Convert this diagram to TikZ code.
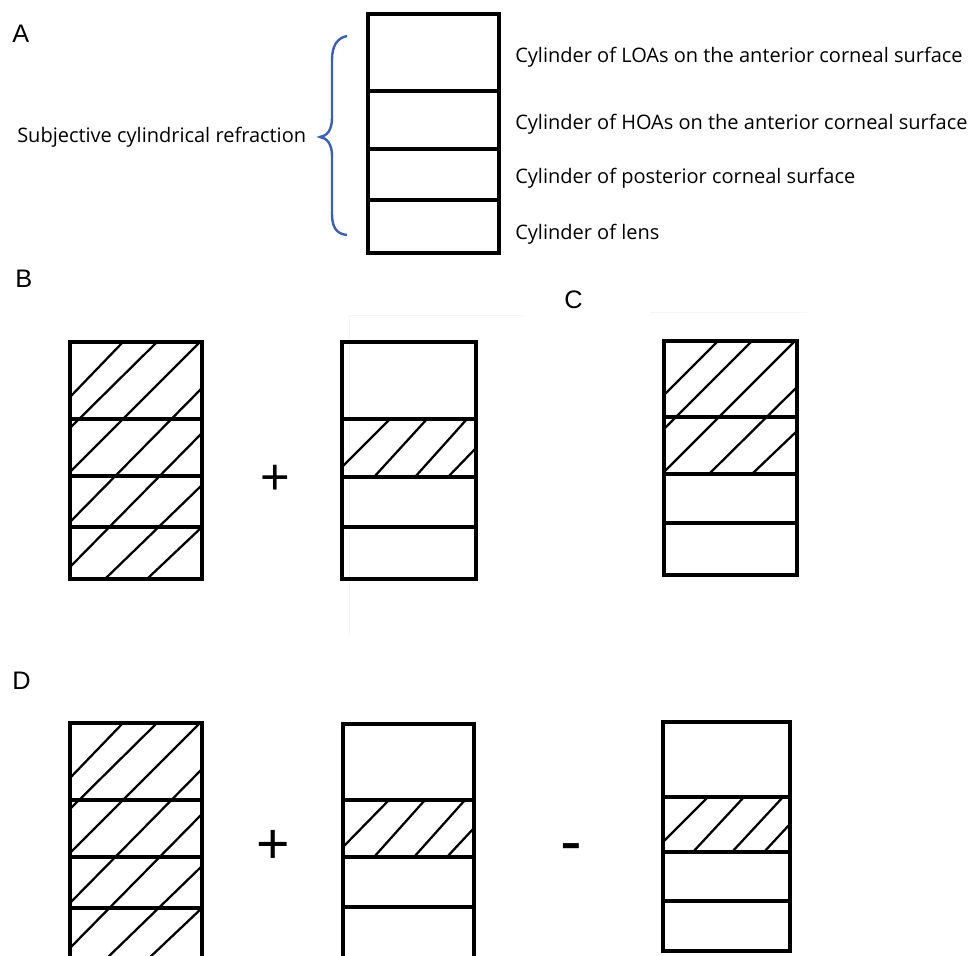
\documentclass[tikz,border=0pt]{standalone}
\usepackage{fontspec}
\setmainfont{Liberation Sans}
\newfontfamily\labelfont{Open Sans}
\begin{document}
\begin{tikzpicture}[x=0.75pt,y=-0.75pt,
  boxline/.style={line width=2.8pt, line join=miter},
  hatchline/.style={line width=1.7pt},
  faint/.style={line width=0.6pt, black!4},
  panel/.style={font=\fontsize{19}{21}\selectfont, inner sep=0pt, anchor=north west},
  lbl/.style={font=\labelfont\fontsize{15}{17}\selectfont, inner sep=0pt, anchor=mid west},
  sign/.style={inner sep=0pt, anchor=center},
  bracecol/.style={draw={rgb,255:red,60;green,95;blue,175}, line width=1.8pt}
]
\useasboundingbox (0,0) rectangle (968,956);
\clip (0,0) rectangle (968,956);

% ---------- panel letters
\node[panel] (pA) at (12,25) {A};
\node[panel] (pB) at (15,270) {B};
\node[panel] (pC) at (564,291) {C};
\node[panel] (pD) at (12,672) {D};

% ---------- panel A
\draw[boxline] (368,14) rectangle (499,253);
\draw[boxline] (368,91) -- (499,91);
\draw[boxline] (368,149) -- (499,149);
\draw[boxline] (368,200) -- (499,200);

\node[lbl] (subj) at (17,139) {Subjective cylindrical refraction};
\node[lbl] (t1) at (515,59) {Cylinder of LOAs on the anterior corneal surface};
\node[lbl] (t2) at (515,126) {Cylinder of HOAs on the anterior corneal surface};
\node[lbl] (t3) at (515,180) {Cylinder of posterior corneal surface};
\node[lbl] (t4) at (515,236) {Cylinder of lens};

\coordinate (brtop) at (347,36);
\coordinate (brtip) at (320,137);
\coordinate (brbot) at (347,235);
\draw[bracecol] (brtop) .. controls (337,38) and (332,46) .. (332,60)
  -- (332,118) .. controls (332,130) and (327,136) .. (brtip)
  .. controls (327,138) and (332,144) .. (332,156)
  -- (332,214) .. controls (332,228) and (337,234) .. (brbot);

% ---------- faint frame lines
\draw[faint] (349,315) -- (349,635);
\draw[faint] (349,315) -- (523,315);
\draw[faint] (650,312) -- (807,312);

% ---------- hatched full box (B1, D1)
\foreach \dy in {0,381}{
\begin{scope}[shift={(0,\dy)}]
\draw[hatchline] (70,397) -- (123,342);
\draw[hatchline] (70,428) -- (157,342);
\draw[hatchline] (70,472) -- (200,342);
\draw[hatchline] (70,522) -- (202,388);
\draw[hatchline] (70,567) -- (202,433);
\draw[hatchline] (105,579) -- (202,485);
\draw[hatchline] (147,579) -- (202,527);
\draw[boxline] (70,342) rectangle (202,579);
\draw[boxline] (70,419) -- (202,419);
\draw[boxline] (70,476) -- (202,476);
\draw[boxline] (70,527) -- (202,527);
\end{scope}
}

% ---------- B2
\draw[hatchline] (343,466) -- (390,419);
\draw[hatchline] (374,477) -- (427,419);
\draw[hatchline] (415,477) -- (467,419);
\draw[hatchline] (448,477) -- (476,448);
\draw[boxline] (342,342) rectangle (476,579);
\draw[boxline] (342,419) -- (476,419);
\draw[boxline] (342,477) -- (476,477);
\draw[boxline] (342,527) -- (476,527);

% ---------- C
\draw[hatchline] (664,395) -- (718,341);
\draw[hatchline] (664,429) -- (752,341);
\draw[hatchline] (664,472) -- (795,341);
\draw[hatchline] (709,474) -- (797,387);
\draw[hatchline] (752,474) -- (797,431);
\draw[boxline] (664,341) rectangle (797,575);
\draw[boxline] (664,417) -- (797,417);
\draw[boxline] (664,474) -- (797,474);
\draw[boxline] (664,523) -- (797,523);

% ---------- D2
\draw[hatchline] (344,846) -- (389,800);
\draw[hatchline] (374,857) -- (425,800);
\draw[hatchline] (414,857) -- (465,800);
\draw[hatchline] (447,857) -- (474,828);
\draw[boxline] (343,724) rectangle (474,990);
\draw[boxline] (343,800) -- (474,800);
\draw[boxline] (343,857) -- (474,857);
\draw[boxline] (343,907) -- (474,907);

% ---------- D3
\draw[hatchline] (663,842) -- (708,797);
\draw[hatchline] (693,852) -- (744,797);
\draw[hatchline] (732,852) -- (783,797);
\draw[hatchline] (764,852) -- (790,824);
\draw[boxline] (663,722) rectangle (790,951);
\draw[boxline] (663,797) -- (790,797);
\draw[boxline] (663,852) -- (790,852);
\draw[boxline] (663,901) -- (790,901);

% ---------- operators
\node[sign, font=\fontsize{38}{40}\selectfont] (plusB) at (275,480) {+};
\node[sign, font=\fontsize{43}{45}\selectfont] (plusD) at (273,847) {+};
\node[sign, font=\fontsize{49}{51}\selectfont] (minusD) at (571,854) {-};
\end{tikzpicture}
\end{document}
